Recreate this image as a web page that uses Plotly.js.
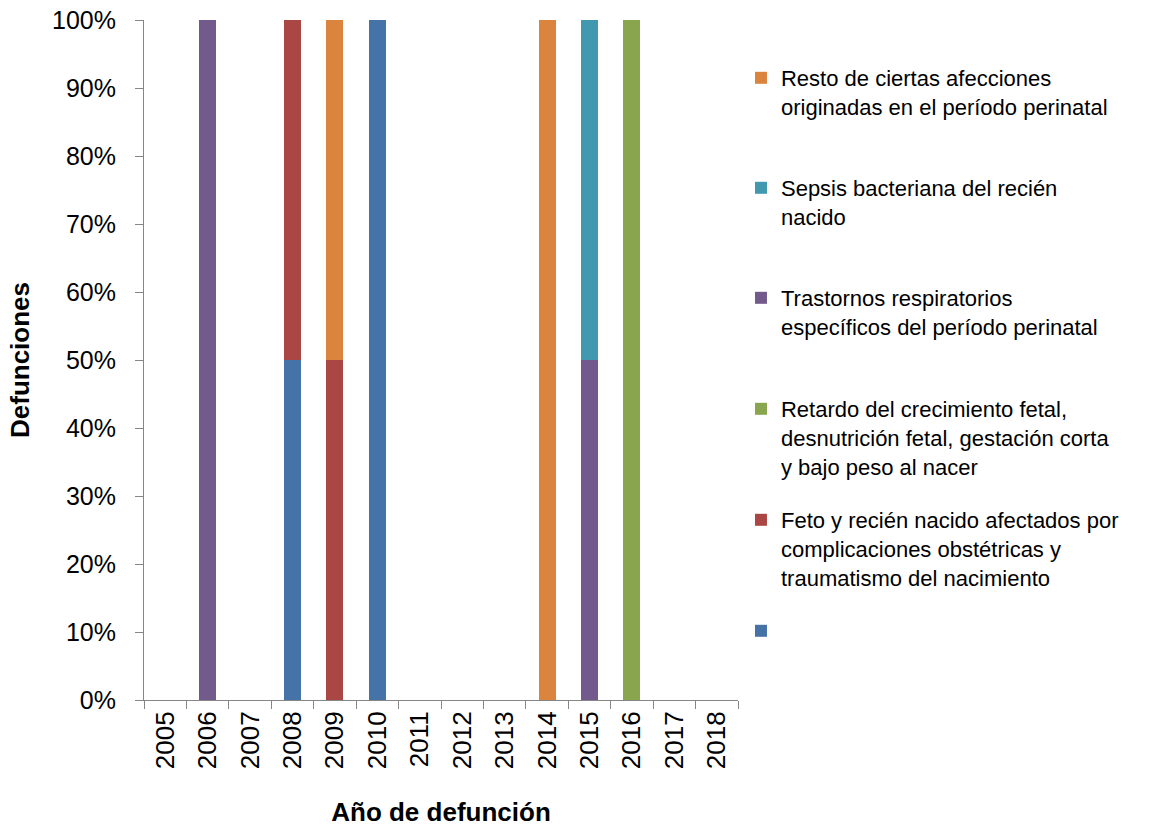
<!DOCTYPE html>
<html>
<head>
<meta charset="utf-8">
<script src="https://cdn.plot.ly/plotly-3.0.1.min.js"></script>
<style>
  html, body { margin: 0; padding: 0; background: #fff; }
  #chart { width: 1157px; height: 827px; }
</style>
</head>
<body>
<div id="chart"></div>
<script>
// Años (categorías del eje X)
const years = ['2005','2006','2007','2008','2009','2010','2011','2012','2013','2014','2015','2016','2017','2018'];

// Proporción de defunciones por causa (0–1), de abajo hacia arriba en la pila
const sinNombre   = [0, 0, 0, 0.5, 0,   1, 0, 0, 0, 0, 0,   0, 0, 0];
const feto        = [0, 0, 0, 0.5, 0.5, 0, 0, 0, 0, 0, 0,   0, 0, 0];
const retardo     = [0, 0, 0, 0,   0,   0, 0, 0, 0, 0, 0,   1, 0, 0];
const trastornos  = [0, 1, 0, 0,   0,   0, 0, 0, 0, 0, 0.5, 0, 0, 0];
const sepsis      = [0, 0, 0, 0,   0,   0, 0, 0, 0, 0, 0.5, 0, 0, 0];
const resto       = [0, 0, 0, 0,   0.5, 0, 0, 0, 0, 1, 0,   0, 0, 0];

const seriesNames = [
  ' ',
  'Feto y recién nacido afectados por<br>complicaciones obstétricas y<br>traumatismo del nacimiento',
  'Retardo del crecimiento fetal,<br>desnutrición fetal, gestación corta<br>y bajo peso al nacer',
  'Trastornos respiratorios<br>específicos del período perinatal',
  'Sepsis bacteriana del recién<br>nacido',
  'Resto de ciertas afecciones<br>originadas en el período perinatal'
];
const seriesValues = [sinNombre, feto, retardo, trastornos, sepsis, resto];
const seriesColors = ['#4572A7', '#AA4643', '#89A54E', '#725A8C', '#4198AF', '#DB843D'];

const FONT = 'Liberation Sans, Arial, sans-serif';

// Excel reparte las entradas de la leyenda a paso fijo: una leyenda por serie
const legendIds = ['legend6', 'legend5', 'legend4', 'legend3', 'legend2', 'legend'];

const traces = seriesValues.map((vals, i) => ({
  type: 'bar',
  x: years,
  y: vals,
  name: seriesNames[i],
  legend: legendIds[i],
  marker: { color: seriesColors[i], line: { width: 0 } },
  hoverinfo: 'x+y'
}));

const layout = {
  width: 1157,
  height: 827,
  barmode: 'stack',
  bargap: 0.6,
  paper_bgcolor: '#fff',
  plot_bgcolor: '#fff',
  margin: { l: 144, r: 419, t: 20, b: 127 },
  font: { family: FONT, size: 22, color: '#000' },
  xaxis: {
    type: 'category',
    title: { text: '<b>Año de defunción</b>', font: { size: 26 }, standoff: 36 },
    tickangle: -90,
    tickfont: { size: 26 },
    ticks: 'outside',
    tickson: 'boundaries',
    ticklen: 8,
    tickcolor: '#868686',
    showline: true,
    linecolor: '#868686',
    linewidth: 1,
    showgrid: false,
    zeroline: false
  },
  yaxis: {
    title: { text: '<b>Defunciones</b>', font: { size: 26 }, standoff: 14 },
    range: [0, 1],
    tickvals: [0, 0.1, 0.2, 0.3, 0.4, 0.5, 0.6, 0.7, 0.8, 0.9, 1],
    tickformat: '.0%',
    tickfont: { size: 25 },
    ticks: 'outside',
    ticklen: 8,
    ticklabelstandoff: 14,
    tickcolor: '#868686',
    showline: true,
    linecolor: '#868686',
    linewidth: 1,
    showgrid: false,
    zeroline: false
  },
  showlegend: true
};

// posición de cada entrada (en px de la primera línea) convertida a fracción del área de trazado
const legendTopPx = [57, 167, 277, 388, 499, 610];
legendIds.slice().reverse().forEach((id, k) => {
  layout[id] = {
    x: 1.005,
    xanchor: 'left',
    y: (700 - legendTopPx[k]) / 680,
    yanchor: 'top',
    valign: 'top',
    font: { family: FONT, size: 22, color: '#000' },
    itemwidth: 30,
    bgcolor: 'rgba(0,0,0,0)'
  };
});

Plotly.newPlot('chart', traces, layout, { displayModeBar: false, staticPlot: true });
</script>
</body>
</html>
